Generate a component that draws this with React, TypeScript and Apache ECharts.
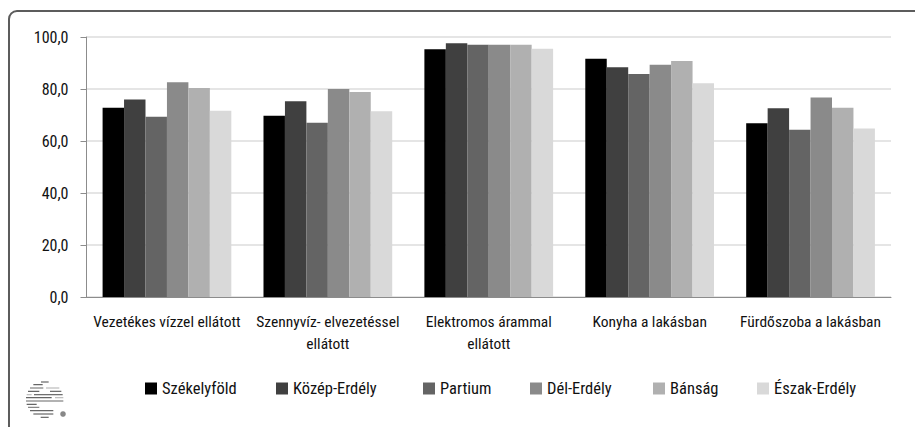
import React, { useEffect, useRef } from "react";
import * as echarts from "echarts";

const categories = ["Vezetékes vízzel ellátott", "Szennyvíz- elvezetéssel\nellátott", "Elektromos árammal\nellátott", "Konyha a lakásban", "Fürdőszoba a lakásban"];
const seriesNames = ["Székelyföld", "Közép-Erdély", "Partium", "Dél-Erdély", "Bánság", "Észak-Erdély"];
const legendLeft = [145, 276, 423, 530, 653, 757];
const colors = ["#000000", "#404040", "#646464", "#8a8a8a", "#b0b0b0", "#d9d9d9"];
const szekelyfold = [72.8, 69.7, 95.3, 91.6, 66.8];
const kozepErdely = [76.0, 75.3, 97.6, 88.4, 72.6];
const partium = [69.3, 67.0, 97.0, 85.8, 64.3];
const delErdely = [82.6, 80.0, 97.0, 89.3, 76.7];
const bansag = [80.4, 78.8, 97.0, 90.8, 72.8];
const eszakErdely = [71.6, 71.4, 95.5, 82.2, 64.8];
const allValues = [szekelyfold, kozepErdely, partium, delErdely, bansag, eszakErdely];

const FONT = "'Roboto Condensed', 'Noto Sans Condensed', 'Open Sans Condensed', 'Arial Narrow', Lato, sans-serif";
// decorative logo strokes, in 3x crop coordinates: x1, x2, y, colour
const logoLines: [number, number, number, string][] = [
  [123, 146, 6, "#666"], [100, 128, 14, "#666"], [90, 130, 24, "#666"], [138, 178, 24, "#bbb"],
  [84, 118, 34, "#666"], [150, 184, 34, "#666"], [80, 95, 44, "#bbb"], [102, 188, 44, "#666"],
  [78, 155, 53, "#666"], [165, 190, 53, "#bbb"], [78, 190, 63, "#666"], [80, 110, 73, "#666"],
  [84, 118, 82, "#888"], [90, 160, 92, "#666"], [100, 160, 102, "#666"], [122, 146, 112, "#666"],
];

export default function App() {
  const ref = useRef<HTMLDivElement>(null);
  useEffect(() => {
    const chart = echarts.init(ref.current!, null, { renderer: "svg" });
    chart.setOption({
      animation: false,
      grid: { left: 86.5, right: 24, top: 37, bottom: 130 },
      legend: seriesNames.map((name, i) => ({
        top: 380,
        left: legendLeft[i],
        icon: "rect",
        itemWidth: 12,
        itemHeight: 12,
        itemGap: 0,
        padding: 0,
        textStyle: { fontFamily: FONT, fontSize: 16.5, color: "#111" },
        data: [name],
      })),
      xAxis: {
        type: "category",
        data: categories,
        axisTick: { show: false },
        axisLine: { lineStyle: { color: "#8c8c8c", width: 1 } },
        axisLabel: { fontFamily: FONT, fontSize: 15.5, color: "#111", interval: 0, margin: 14, lineHeight: 22 },
      },
      yAxis: {
        type: "value",
        min: 0,
        max: 100,
        interval: 20,
        axisLine: { show: true, lineStyle: { color: "#8c8c8c", width: 1 } },
        axisTick: { show: true, length: 6, lineStyle: { color: "#8c8c8c" } },
        splitLine: { lineStyle: { color: "#dcdcdc", width: 1.5 } },
        axisLabel: {
          fontFamily: FONT,
          fontSize: 16,
          color: "#111",
          margin: 18,
          formatter: (v: number) => v.toFixed(1).replace(".", ","),
        },
      },
      series: seriesNames.map((name, i) => ({
        name,
        type: "bar",
        data: allValues[i],
        barGap: "0%",
        barCategoryGap: "20%",
        itemStyle: { color: colors[i] },
      })),
      graphic: [
        {
          type: "rect",
          shape: { x: 9, y: 11, width: 1000, height: 600, r: 8 },
          style: { fill: "none", stroke: "#5c5c5c", lineWidth: 2 },
          silent: true,
        },
        ...logoLines.map(([x1, x2, y, color]) => ({
          type: "rect",
          shape: { x: x1 / 3, y: 380 + y / 3 - 0.6, width: (x2 - x1) / 3, height: 1.2 },
          style: { fill: color },
          silent: true,
        })),
        { type: "circle", shape: { cx: 63, cy: 414, r: 2.8 }, style: { fill: "#888" }, silent: true },
      ],
    });
    return () => chart.dispose();
  }, []);
  return <div ref={ref} style={{ position: "fixed", left: 0, top: 0, width: 915, height: 427, background: "#fff" }} />;
}
